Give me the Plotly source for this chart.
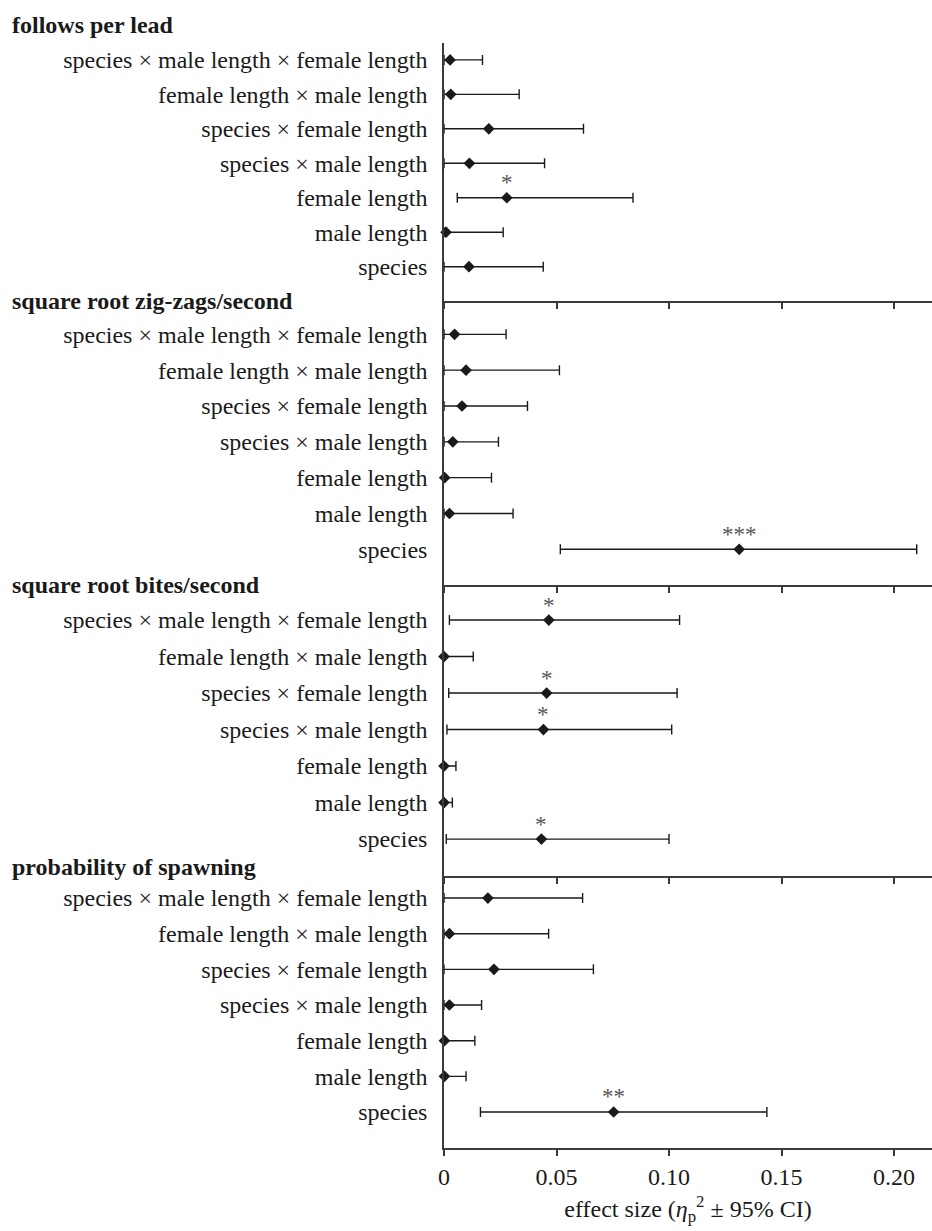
import plotly.graph_objects as go

# ---- data (rows listed top to bottom as displayed) ----
terms = [
    "species × male length × female length",
    "female length × male length",
    "species × female length",
    "species × male length",
    "female length",
    "male length",
    "species",
]

panel_titles = [
    "follows per lead",
    "square root zig-zags/second",
    "square root bites/second",
    "probability of spawning",
]

follows_est = [0.0027, 0.0030, 0.0199, 0.0113, 0.0279, 0.0009, 0.0111]
follows_lo = [0.0, 0.0, 0.0, 0.0, 0.0059, 0.0, 0.0]
follows_hi = [0.0171, 0.0334, 0.0620, 0.0447, 0.0840, 0.0263, 0.0441]
follows_sig = ["", "", "", "", "*", "", ""]

zigzag_est = [0.0047, 0.0098, 0.0080, 0.0039, 0.0003, 0.0024, 0.1312]
zigzag_lo = [0.0, 0.0, 0.0, 0.0, 0.0, 0.0, 0.0517]
zigzag_hi = [0.0276, 0.0513, 0.0371, 0.0242, 0.0211, 0.0307, 0.2101]
zigzag_sig = ["", "", "", "", "", "", "***"]

bites_est = [0.0466, 0.0, 0.0456, 0.0442, 0.0, 0.0, 0.0433]
bites_lo = [0.0024, 0.0, 0.0021, 0.0013, 0.0, 0.0, 0.0010]
bites_hi = [0.1047, 0.0130, 0.1036, 0.1012, 0.0053, 0.0037, 0.1000]
bites_sig = ["*", "", "*", "*", "", "", "*"]

spawn_est = [0.0195, 0.0024, 0.0222, 0.0024, 0.0002, 0.0002, 0.0754]
spawn_lo = [0.0, 0.0, 0.0, 0.0, 0.0, 0.0, 0.0162]
spawn_hi = [0.0616, 0.0465, 0.0664, 0.0167, 0.0137, 0.0098, 0.1435]
spawn_sig = ["", "", "", "", "", "", "**"]

x_tickvals = [0, 0.05, 0.10, 0.15, 0.20]
x_ticktext = ["0", "0.05", "0.10", "0.15", "0.20"]

panels = [
    (follows_est, follows_lo, follows_hi, follows_sig),
    (zigzag_est, zigzag_lo, zigzag_hi, zigzag_sig),
    (bites_est, bites_lo, bites_hi, bites_sig),
    (spawn_est, spawn_lo, spawn_hi, spawn_sig),
]

# ---- layout constants ----
W, H = 932, 1231
FONT = "Liberation Serif"
INK = "#1a1a1a"
AXC = "#3a3a3a"
domains = [(0.7665, 1.0), (0.5095, 0.7665), (0.2462, 0.5095), (0.0, 0.2462)]
yranges = [(-0.996, 6.49), (-0.996, 6.93), (-1.01, 6.96), (-1.01, 6.62)]
title_shift = [18, 0, 0, 9]
xmax = 488 / 2250.0

fig = go.Figure()
annotations = []
cat_order = list(reversed(terms))

for i, (est, lo, hi, sig) in enumerate(panels):
    n = i + 1
    xa = "x" if n == 1 else f"x{n}"
    ya = "y" if n == 1 else f"y{n}"
    plus = [h - e for h, e in zip(hi, est)]
    minus = [e - l for e, l in zip(est, lo)]
    fig.add_trace(go.Scatter(
        x=est, y=terms, xaxis=xa, yaxis=ya, mode="markers",
        marker=dict(symbol="diamond", size=9, color=INK, line=dict(width=0)),
        error_x=dict(type="data", symmetric=False, array=plus, arrayminus=minus,
                     color=INK, thickness=1.4, width=5),
        cliponaxis=False, showlegend=False, hoverinfo="skip",
    ))
    for e, t, s in zip(est, terms, sig):
        if s:
            annotations.append(dict(
                x=e, y=t, xref=xa, yref=ya, text=s, showarrow=False,
                yshift=15, font=dict(family=FONT, size=23, color="#555555"),
            ))
    # panel title
    annotations.append(dict(
        x=0, y=1, xref="paper", yref=f"{ya} domain", text=f"<b>{panel_titles[i]}</b>",
        showarrow=False, xanchor="left", yanchor="middle",
        xshift=-434, yshift=title_shift[i],
        font=dict(family=FONT, size=24, color=INK),
    ))
    last = (n == 4)
    xaxis_cfg = dict(
        range=[0, xmax], anchor=ya, domain=[0, 1],
        showline=True, linecolor=AXC, linewidth=1.5,
        ticks="outside", ticklen=6, tickwidth=1.5, tickcolor=AXC,
        tickvals=x_tickvals, ticktext=x_ticktext,
        showticklabels=last, showgrid=False, zeroline=False,
        tickfont=dict(family=FONT, size=24, color=INK),
        fixedrange=True,
    )
    if last:
        xaxis_cfg["title"] = dict(
            text="effect size (<i>η</i><sub>p</sub><sup>2</sup> ± 95% CI)",
            font=dict(family=FONT, size=24, color=INK), standoff=12)
    fig.update_layout({
        ("xaxis" if n == 1 else f"xaxis{n}"): xaxis_cfg,
        ("yaxis" if n == 1 else f"yaxis{n}"): dict(
            domain=list(domains[i]), anchor=xa, type="category",
            categoryorder="array", categoryarray=cat_order,
            range=list(yranges[i]),
            showline=True, linecolor=AXC, linewidth=1.5,
            ticks="", showgrid=False, zeroline=False,
            ticklabelstandoff=10,
            tickfont=dict(family=FONT, size=24, color=INK),
            fixedrange=True,
        ),
    })

fig.update_layout(
    width=W, height=H,
    margin=dict(l=444, r=0, t=43, b=83, pad=0),
    paper_bgcolor="white", plot_bgcolor="white",
    annotations=annotations,
    font=dict(family=FONT, color=INK),
)

fig.write_html("out.html", config={"displayModeBar": False},
               post_script="document.body.style.margin='0';")
